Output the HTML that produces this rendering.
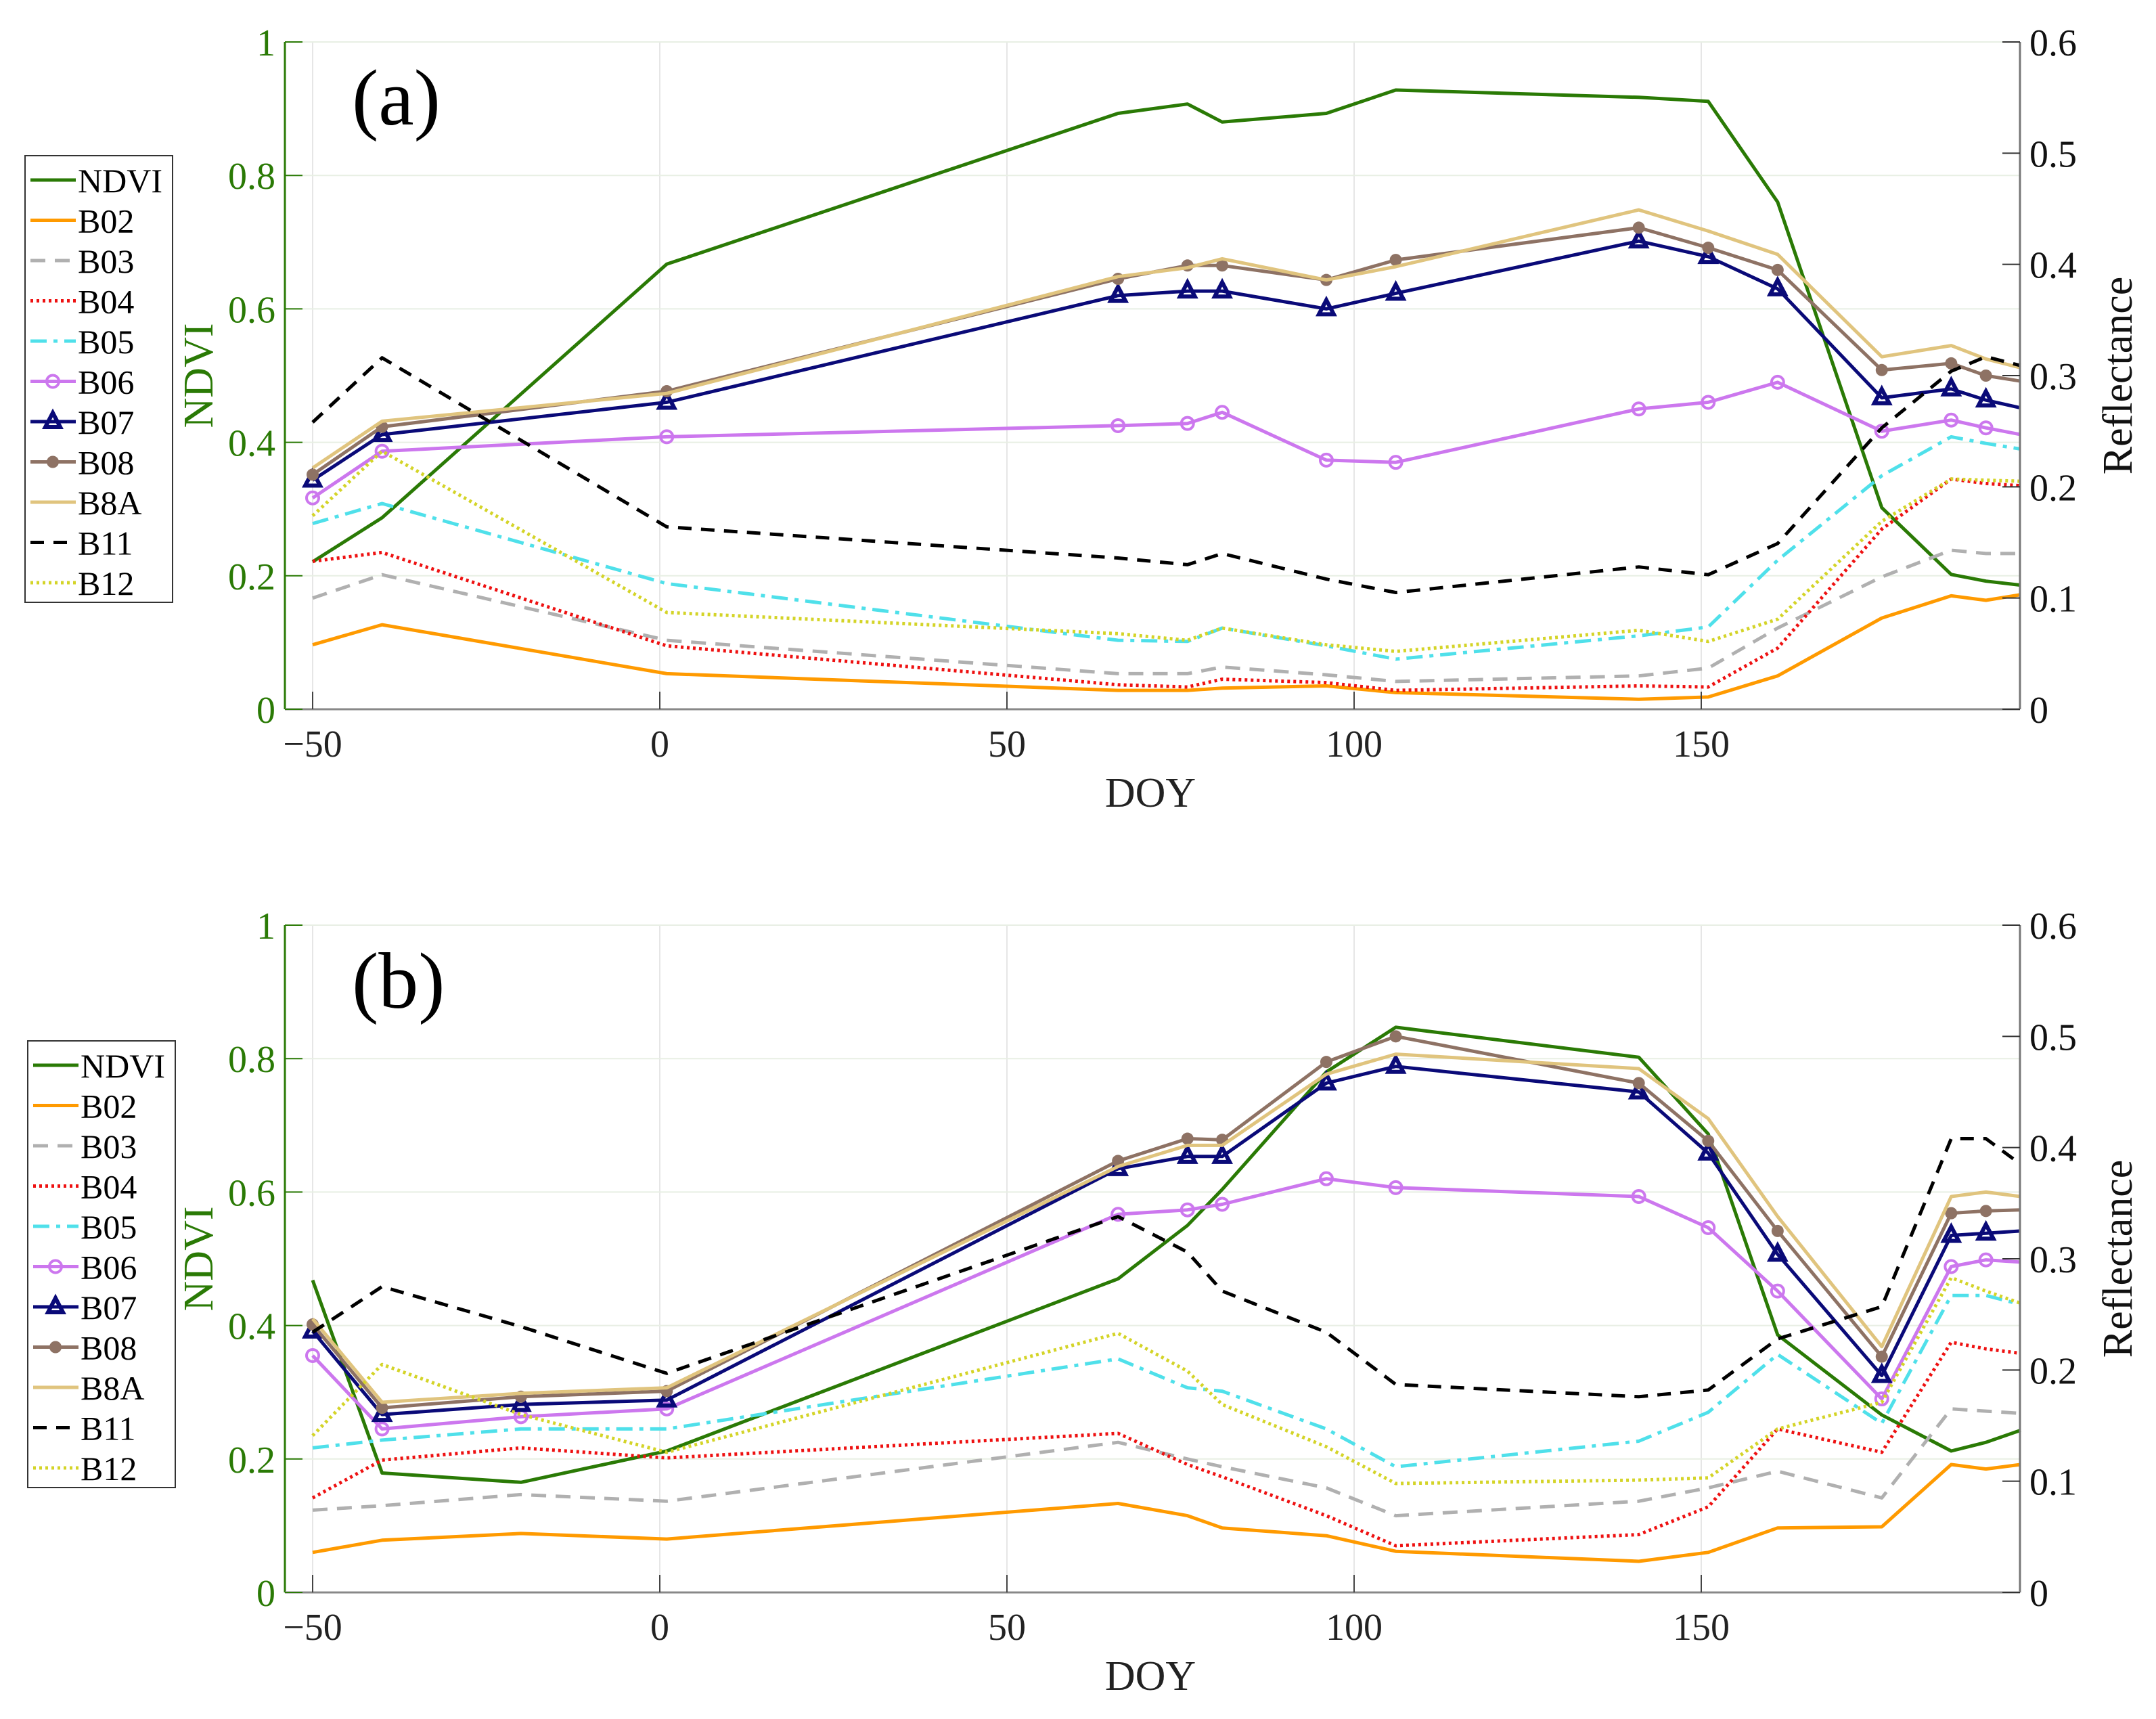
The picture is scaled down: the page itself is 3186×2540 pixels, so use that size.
<!DOCTYPE html>
<html><head><meta charset="utf-8">
<style>
html,body{margin:0;padding:0;background:#fff;}
svg{display:block;}
svg text{font-family:"Liberation Serif","Times New Roman",serif;}
</style></head>
<body>
<svg id="chart" width="3186" height="2540" viewBox="0 0 3186 2540" font-family="Liberation Serif, serif" xmlns="http://www.w3.org/2000/svg"></svg>
<script>
// ---- data ----
const doyA = [-50,-40,1,66,76,81,96,106,141,151,161,176,186,191,196];
const ndviA = [0.221,0.287,0.667,0.893,0.907,0.880,0.893,0.928,0.917,0.911,0.760,0.302,0.202,0.192,0.186];
const b02A = [0.058,0.076,0.032,0.017,0.017,0.019,0.021,0.015,0.009,0.011,0.030,0.082,0.102,0.098,0.103];
const b03A = [0.100,0.121,0.062,0.032,0.032,0.038,0.031,0.025,0.030,0.037,0.073,0.119,0.143,0.140,0.140];
const b04A = [0.133,0.141,0.057,0.022,0.020,0.027,0.024,0.017,0.021,0.020,0.055,0.162,0.207,0.203,0.201];
const b05A = [0.167,0.185,0.113,0.062,0.061,0.073,0.057,0.045,0.066,0.074,0.134,0.210,0.245,0.239,0.234];
const b06A = [0.190,0.232,0.245,0.255,0.257,0.267,0.224,0.222,0.270,0.276,0.294,0.250,0.260,0.253,0.247];
const b07A = [0.206,0.247,0.276,0.372,0.376,0.376,0.360,0.374,0.421,0.407,0.378,0.280,0.288,0.278,0.271];
const b08A = [0.211,0.254,0.286,0.387,0.399,0.399,0.386,0.404,0.433,0.415,0.395,0.305,0.311,0.300,0.295];
const b8aA = [0.217,0.259,0.284,0.389,0.397,0.405,0.386,0.398,0.449,0.430,0.409,0.317,0.327,0.315,0.307];
const b11A = [0.258,0.316,0.164,0.136,0.130,0.140,0.117,0.105,0.128,0.121,0.149,0.253,0.304,0.317,0.309];
const b12A = [0.174,0.232,0.087,0.068,0.062,0.073,0.058,0.052,0.071,0.061,0.081,0.169,0.207,0.206,0.205];

const doyB = [-50,-40,-20,1,66,76,81,96,106,141,151,161,176,186,191,196];
const ndviB = [0.468,0.179,0.165,0.212,0.470,0.550,0.604,0.780,0.847,0.802,0.687,0.386,0.266,0.212,0.225,0.243];
const b02B = [0.036,0.047,0.053,0.048,0.080,0.069,0.058,0.051,0.037,0.028,0.036,0.058,0.059,0.115,0.111,0.115];
const b03B = [0.074,0.078,0.088,0.082,0.135,0.120,0.113,0.094,0.069,0.082,0.094,0.109,0.085,0.165,0.163,0.161];
const b04B = [0.085,0.119,0.130,0.121,0.143,0.115,0.104,0.069,0.042,0.052,0.077,0.147,0.126,0.225,0.219,0.215];
const b05B = [0.130,0.137,0.147,0.147,0.210,0.184,0.181,0.147,0.113,0.136,0.162,0.214,0.152,0.267,0.267,0.259];
const b06B = [0.213,0.147,0.158,0.165,0.340,0.344,0.349,0.372,0.364,0.356,0.328,0.271,0.174,0.293,0.299,0.297];
const b07B = [0.235,0.160,0.169,0.173,0.381,0.392,0.392,0.458,0.473,0.450,0.395,0.304,0.195,0.321,0.323,0.325];
const b08B = [0.241,0.166,0.176,0.181,0.388,0.408,0.407,0.477,0.500,0.458,0.406,0.325,0.212,0.341,0.343,0.344];
const b8aB = [0.246,0.171,0.179,0.184,0.383,0.402,0.402,0.466,0.484,0.471,0.426,0.338,0.221,0.356,0.360,0.356];
const b11B = [0.234,0.275,0.239,0.197,0.338,0.306,0.271,0.234,0.187,0.176,0.182,0.228,0.257,0.408,0.408,0.385];
const b12B = [0.141,0.205,0.160,0.126,0.233,0.199,0.169,0.131,0.098,0.101,0.103,0.147,0.171,0.283,0.271,0.260];

const xTicks = [-50,0,50,100,150];
const xTickLabels = ["\u221250","0","50","100","150"];
const ndviTicks = [0,0.2,0.4,0.6,0.8,1];
const ndviTickLabels = ["0","0.2","0.4","0.6","0.8","1"];
const reflTicks = [0,0.1,0.2,0.3,0.4,0.5,0.6];
const reflTickLabels = ["0","0.1","0.2","0.3","0.4","0.5","0.6"];
const seriesNames = ["NDVI","B02","B03","B04","B05","B06","B07","B08","B8A","B11","B12"];

// ---- styles ----
const GREEN="#2a7a05";
const FONT="Liberation Serif, serif";
const styles = {
 NDVI:{c:GREEN,d:""},
 B02:{c:"#ff9a00",d:""},
 B03:{c:"#b0b0b0",d:"22 14"},
 B04:{c:"#ee1111",d:"4 5"},
 B05:{c:"#4fe0ea",d:"24 10 6 10"},
 B06:{c:"#cc77ee",d:"",m:"circle"},
 B07:{c:"#0a0a78",d:"",m:"tri"},
 B08:{c:"#8e7264",d:"",m:"dot"},
 B8A:{c:"#e0c47e",d:""},
 B11:{c:"#000",d:"20 14"},
 B12:{c:"#d4d428",d:"4 5"}
};
const NS="http://www.w3.org/2000/svg";
const svg=document.getElementById('chart');
function mk(tag,attrs,parent){const e=document.createElementNS(NS,tag);for(const k in attrs)e.setAttribute(k,attrs[k]);if(tag==='text')e.setAttribute('font-family',FONT);(parent||svg).appendChild(e);return e;}

const X0=421,X1=2985;
function xs(d){return 462+(d+50)*10.26;}

function panel(id,top,bottom,doy,ndvi,bands,label,legTop,legLeft){
 const g=mk('g',{});
 
 
 const H=bottom-top;
 const yN=v=>bottom-v*H;
 const yR=v=>bottom-v/0.6*H;
 xTicks.forEach(t=>{const l=mk('line',{x1:xs(t),x2:xs(t),y1:top,y2:bottom,stroke:"#e6e6e6","stroke-width":2},g);
  
  });
 ndviTicks.forEach(t=>{const l=mk('line',{x1:X0,x2:X1,y1:yN(t),y2:yN(t),stroke:"#e8efe4","stroke-width":2},g);
  
  });
 const data=[ndvi].concat(bands);
 seriesNames.forEach((n,i)=>{
  const st=styles[n];const yf=i===0?yN:yR;
  const pts=doy.map((d,j)=>xs(d).toFixed(1)+","+yf(data[i][j]).toFixed(1)).join(" ");
  const pl=mk('polyline',{points:pts,fill:"none",stroke:st.c,"stroke-width":5,"stroke-dasharray":st.d,"stroke-linejoin":"round"},g);
  
  
  if(st.m){doy.forEach((d,j)=>{if(d>192)return;const cx=xs(d),cy=yf(data[i][j]);let m;
   if(st.m==="circle")m=mk('circle',{cx:cx,cy:cy,r:9,fill:"#fff","fill-opacity":0,stroke:st.c,"stroke-width":4},g);
   else if(st.m==="dot")m=mk('circle',{cx:cx,cy:cy,r:9,fill:st.c},g);
   else m=mk('polygon',{points:`${cx},${cy-13} ${cx-11},${cy+8} ${cx+11},${cy+8}`,fill:"none",stroke:st.c,"stroke-width":6},g);
   
   });}
 });
 let a=mk('line',{x1:X0,x2:X0,y1:top,y2:bottom,stroke:GREEN,"stroke-width":3},g);
 
 
 a=mk('line',{x1:X1,x2:X1,y1:top,y2:bottom,stroke:"#777","stroke-width":3},g);
 
 
 a=mk('line',{x1:X0,x2:X1,y1:bottom,y2:bottom,stroke:"#888","stroke-width":3},g);
 
 
 xTicks.forEach((t,i)=>{mk('line',{x1:xs(t),x2:xs(t),y1:bottom,y2:bottom-26,stroke:"#444","stroke-width":2},g);
  const tx=mk('text',{x:xs(t),y:bottom+70,"font-size":56,"text-anchor":"middle",fill:"#222"},g);tx.textContent=xTickLabels[i];
  
  });
 ndviTicks.forEach((t,i)=>{mk('line',{x1:X0,x2:X0+26,y1:yN(t),y2:yN(t),stroke:GREEN,"stroke-width":2},g);
  const tx=mk('text',{x:X0-14,y:yN(t)+20,"font-size":56,"text-anchor":"end",fill:GREEN},g);tx.textContent=ndviTickLabels[i];
  
  });
 reflTicks.forEach((t,i)=>{mk('line',{x1:X1-26,x2:X1,y1:yR(t),y2:yR(t),stroke:"#333","stroke-width":2},g);
  const tx=mk('text',{x:X1+14,y:yR(t)+20,"font-size":56,fill:"#111"},g);tx.textContent=reflTickLabels[i];
  
  });
 let t=mk('text',{x:1700,y:bottom+144,"font-size":62,"text-anchor":"middle",fill:"#222"},g);t.textContent="DOY";
 
 
 const mid=(top+bottom)/2;
 t=mk('text',{x:0,y:0,"font-size":62,"text-anchor":"middle",fill:GREEN,transform:`translate(314,${mid}) rotate(-90)`},g);t.textContent="NDVI";
 
 
 t=mk('text',{x:0,y:0,"font-size":62,"text-anchor":"middle",fill:"#111",transform:`translate(3150,${mid}) rotate(-90)`},g);t.textContent="Reflectance";
 
 
 t=mk('text',{x:520,y:top+122,"font-size":118,fill:"#000"},g);t.textContent=label;
 
 
 const lg=mk('g',{},g);
 
 
 mk('rect',{x:legLeft,y:legTop,width:218,height:660,fill:"#fff",stroke:"#333","stroke-width":2},lg);
 seriesNames.forEach((n,i)=>{const st=styles[n];const yy=legTop+36+i*59.5;
  const e=mk('g',{},lg);
  
  
  mk('line',{x1:legLeft+8,x2:legLeft+75,y1:yy,y2:yy,stroke:st.c,"stroke-width":5,"stroke-dasharray":st.d},e);
  const cx=legLeft+41;
  if(st.m==="circle")mk('circle',{cx:cx,cy:yy,r:9,fill:"none",stroke:st.c,"stroke-width":4},e);
  if(st.m==="dot")mk('circle',{cx:cx,cy:yy,r:9,fill:st.c},e);
  if(st.m==="tri")mk('polygon',{points:`${cx},${yy-13} ${cx-11},${yy+8} ${cx+11},${yy+8}`,fill:"none",stroke:st.c,"stroke-width":6},e);
  const tx=mk('text',{x:legLeft+78,y:yy+18,"font-size":50,fill:"#000"},e);tx.textContent=n;});
}
panel('a',62,1048,doyA,ndviA,[b02A,b03A,b04A,b05A,b06A,b07A,b08A,b8aA,b11A,b12A],"(a)",230,37);
panel('b',1367,2353,doyB,ndviB,[b02B,b03B,b04B,b05B,b06B,b07B,b08B,b8aB,b11B,b12B],"(b)",1538,41);
</script>
</body></html>
